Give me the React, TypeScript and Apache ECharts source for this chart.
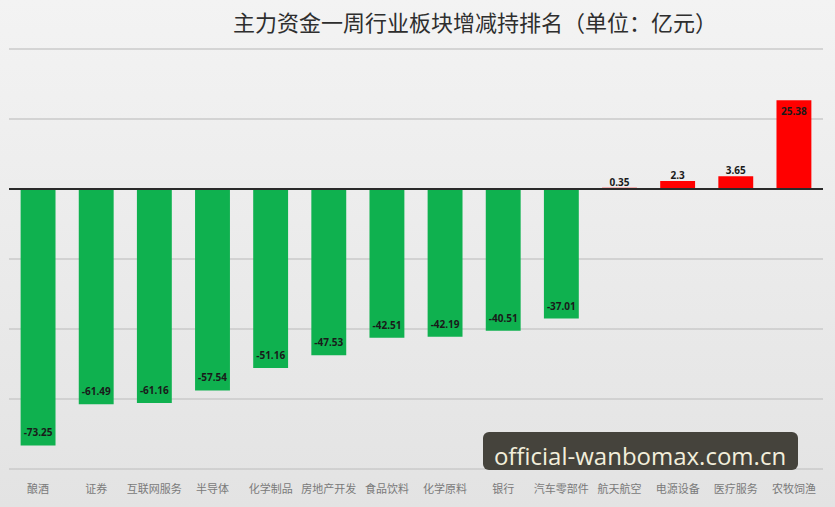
import React, { useEffect, useRef } from "react";
import * as echarts from "echarts";

const categories = ["酿酒", "证券", "互联网服务", "半导体", "化学制品", "房地产开发", "食品饮料", "化学原料", "银行", "汽车零部件", "航天航空", "电源设备", "医疗服务", "农牧饲渔"];
const values = [-73.25, -61.49, -61.16, -57.54, -51.16, -47.53, -42.51, -42.19, -40.51, -37.01, 0.35, 2.3, 3.65, 25.38];
const titleText = "主力资金一周行业板块增减持排名（单位：亿元）";
const watermark = "official-wanbomax.com.cn";

export default function App() {
  const ref = useRef<HTMLDivElement>(null);
  useEffect(() => {
    const chart = echarts.init(ref.current!, null, { renderer: "svg" });
    const data = values.map((v) => ({
      value: v,
      itemStyle: { color: v < 0 ? "#0fb14f" : "#ff0000" },
      label: {
        position: v < 0 ? "insideBottom" : v < 10 ? "top" : "insideTop",
        distance: v < 0 ? 8 : v < 10 ? 1 : 6,
      },
    }));
    chart.setOption({
      animation: false,
      backgroundColor: {
        type: "linear", x: 0, y: 0, x2: 0, y2: 1,
        colorStops: [
          { offset: 0, color: "#f3f3f3" },
          { offset: 1, color: "#e3e3e3" },
        ],
      },
      title: {
        text: titleText,
        left: 470,
        textAlign: "center",
        top: 5,
        textStyle: { fontFamily: "Noto Sans CJK SC", fontSize: 22, fontWeight: "normal", color: "#2e2e2e" },
      },
      grid: { left: 9, right: 12, top: 49, bottom: 38 },
      xAxis: {
        type: "category",
        data: categories,
        axisLine: { show: false, onZero: false },
        axisTick: { show: false },
        axisLabel: { color: "#7a7a7a", fontSize: 11, margin: 13, fontFamily: "Noto Sans CJK SC", interval: 0 },
      },
      yAxis: {
        type: "value",
        min: -80,
        max: 40,
        interval: 20,
        axisLabel: { show: false },
        axisLine: { show: false },
        axisTick: { show: false },
        splitLine: { lineStyle: { color: "#cacaca", width: 1.5 } },
      },
      series: [
        {
          type: "bar",
          data,
          barWidth: "60%",
          label: {
            show: true,
            color: "#1a1a1a",
            fontSize: 10,
            fontWeight: "bold",
            fontFamily: "Noto Sans",
          },
          markLine: {
            silent: true,
            symbol: "none",
            label: { show: false },
            lineStyle: { color: "#2a2a2a", width: 2, type: "solid" },
            data: [{ yAxis: 0 }],
          },
        },
      ],
      graphic: [
        {
          type: "rect",
          shape: { x: 483, y: 432, width: 315, height: 38, r: 6 },
          style: { fill: "#45433c" },
          z: 100,
        },
        {
          type: "text",
          x: 640,
          y: 455,
          style: {
            text: watermark,
            fill: "#f2eedb",
            font: "24px 'Open Sans'",
            textAlign: "center",
            textVerticalAlign: "middle",
          },
          z: 101,
        },
      ],
    });
    return () => chart.dispose();
  }, []);
  return <div ref={ref} style={{ width: 835, height: 507, position: "absolute", left: 0, top: 0 }} />;
}
